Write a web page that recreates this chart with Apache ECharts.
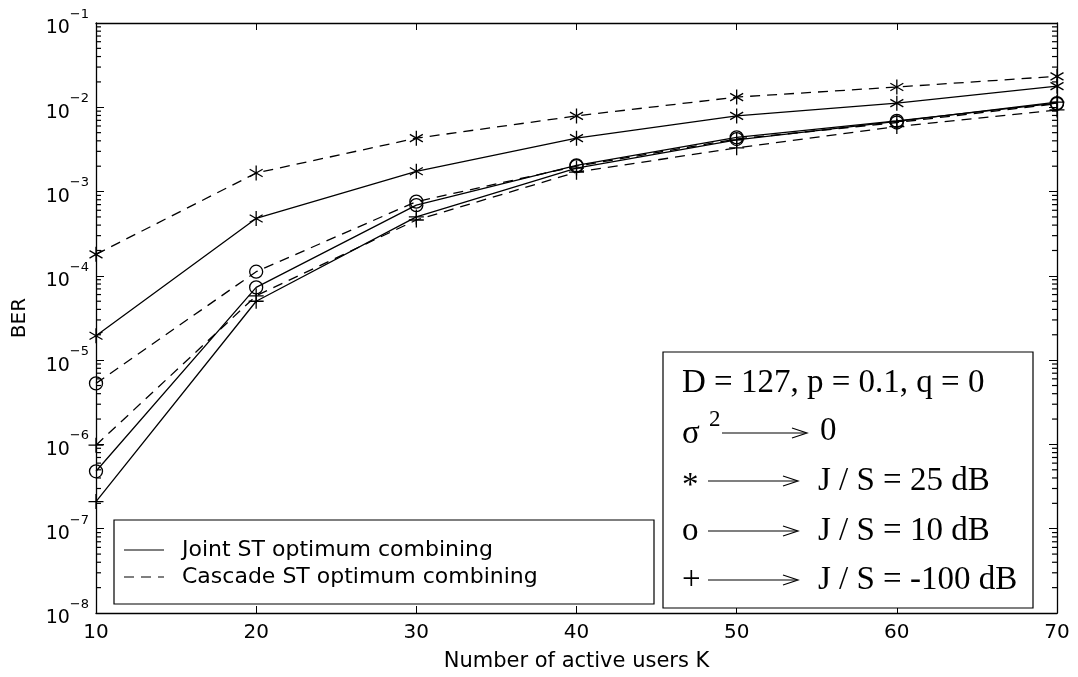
<!DOCTYPE html>
<html>
<head>
<meta charset="utf-8">
<script src="https://cdn.jsdelivr.net/npm/echarts@6/dist/echarts.min.js"></script>
<style>
  html, body { margin: 0; padding: 0; background: #fff; }
  #main { width: 1078px; height: 677px; }
</style>
</head>
<body>
<div id="main"></div>
<script>
// number of active users K
var users = [10, 20, 30, 40, 50, 60, 70];
// BER, J/S = 25 dB (*)
var joint25 = [1.95e-5, 4.8e-4, 1.74e-3, 4.3e-3, 7.9e-3, 1.12e-2, 1.78e-2];
var cascade25 = [1.8e-4, 1.66e-3, 4.3e-3, 7.9e-3, 1.32e-2, 1.74e-2, 2.33e-2];
// BER, J/S = 10 dB (o)
var joint10 = [4.8e-7, 7.3e-5, 6.9e-4, 2.05e-3, 4.4e-3, 6.9e-3, 1.12e-2];
var cascade10 = [5.3e-6, 1.12e-4, 7.6e-4, 2.0e-3, 4.2e-3, 6.6e-3, 1.1e-2];
// BER, J/S = -100 dB (+)
var jointM100 = [2.1e-7, 5.0e-5, 5.0e-4, 1.9e-3, 4.1e-3, 6.8e-3, 1.15e-2];
var cascadeM100 = [9.8e-7, 5.8e-5, 4.6e-4, 1.7e-3, 3.3e-3, 5.9e-3, 9.3e-3];

var sansFont = 'DejaVu Sans';
var serifFont = 'Liberation Serif';

var STAR = 'path://M0,-10L0,10M-8.66,-5L8.66,5M-8.66,5L8.66,-5';
var PLUS = 'path://M0,-10L0,10M-10,0L10,0';

// minor ticks of the log axis: 2..9 x 10^e
var minorValues = [];
for (var p = -8; p <= -2; p++) {
  for (var k = 2; k <= 9; k++) minorValues.push(k * Math.pow(10, p));
}

function pairs(ys) {
  return users.map(function (x, i) { return [x, ys[i]]; });
}

function makeSeries(name, ys, symbol, size, dashed) {
  return {
    name: name,
    type: 'line',
    data: pairs(ys),
    symbol: symbol,
    symbolSize: size,
    symbolKeepAspect: true,
    lineStyle: { color: '#000', width: 1.3, type: dashed ? [10, 7] : 'solid' },
    itemStyle: { color: 'rgba(0,0,0,0)', borderColor: '#000', borderWidth: 1.3 },
    emphasis: { disabled: true },
    animation: false,
    z: 3
  };
}

// small inward tick marks on the left / right edge, drawn as symbols only
function minorTickSeries(x, offset) {
  return {
    type: 'line',
    silent: true,
    data: minorValues.map(function (v) { return [x, v]; }),
    showSymbol: true,
    symbol: 'rect',
    symbolSize: [5, 1.2],
    symbolOffset: [offset, 0],
    itemStyle: { color: '#000' },
    lineStyle: { width: 0, opacity: 0 },
    emphasis: { disabled: true },
    animation: false,
    z: 2
  };
}

var chartDom = document.getElementById('main');
var myChart = echarts.init(chartDom);

var option = {
  backgroundColor: '#fff',
  animation: false,
  grid: { left: 96, right: 21, top: 23, bottom: 56, containLabel: false },
  xAxis: [
    {
      type: 'value', min: 10, max: 70, interval: 10,
      name: 'Number of active users K', nameLocation: 'middle', nameGap: 38,
      nameTextStyle: { fontFamily: sansFont, fontSize: 21, color: '#000' },
      axisLine: { lineStyle: { color: '#000', width: 1.3 } },
      axisTick: { inside: true, length: 7, lineStyle: { color: '#000' } },
      axisLabel: { fontFamily: sansFont, fontSize: 20, color: '#000', margin: 10 },
      splitLine: { show: false }
    },
    {
      type: 'value', min: 10, max: 70, interval: 10, position: 'top',
      axisLine: { lineStyle: { color: '#000', width: 1.3 } },
      axisTick: { inside: true, length: 7, lineStyle: { color: '#000' } },
      axisLabel: { show: false },
      splitLine: { show: false }
    }
  ],
  yAxis: [
    {
      type: 'log', logBase: 10, min: 1e-8, max: 1e-1, interval: 1,
      name: 'BER', nameLocation: 'middle', nameGap: 66,
      nameTextStyle: { fontFamily: sansFont, fontSize: 20, color: '#000' },
      axisLine: { show: true, lineStyle: { color: '#000', width: 1.3 } },
      axisTick: { show: true, inside: true, length: 8, lineStyle: { color: '#000' } },
      axisLabel: {
        margin: 7,
        formatter: function (v) {
          var p = Math.round(Math.log(v) / Math.LN10);
          return '{b|10}{s|' + (p < 0 ? '\u2212' : '') + Math.abs(p) + '}';
        },
        rich: {
          b: { fontFamily: sansFont, fontSize: 19, color: '#000', lineHeight: 30, verticalAlign: 'bottom' },
          s: { fontFamily: sansFont, fontSize: 13, color: '#000', lineHeight: 30, verticalAlign: 'top' }
        }
      },
      splitLine: { show: false }
    },
    {
      type: 'log', logBase: 10, min: 1e-8, max: 1e-1, interval: 1, position: 'right',
      axisLine: { show: true, lineStyle: { color: '#000', width: 1.3 } },
      axisTick: { show: true, inside: true, length: 8, lineStyle: { color: '#000' } },
      axisLabel: { show: false },
      splitLine: { show: false }
    }
  ],
  series: [
    makeSeries('Joint ST optimum combining', joint25, STAR, [15, 15], false),
    makeSeries('Cascade ST optimum combining', cascade25, STAR, [15, 15], true),
    makeSeries('Joint ST optimum combining', joint10, 'circle', 13, false),
    makeSeries('Cascade ST optimum combining', cascade10, 'circle', 13, true),
    makeSeries('Joint ST optimum combining', jointM100, PLUS, 15, false),
    makeSeries('Cascade ST optimum combining', cascadeM100, PLUS, 15, true),
    minorTickSeries(10, 2.5),
    minorTickSeries(70, -2.5)
  ],
  graphic: [
    // line style legend (bottom left)
    { type: 'rect', shape: { x: 114, y: 520, width: 540, height: 84 },
      style: { fill: '#fff', stroke: '#000', lineWidth: 1.2 }, z: 10 },
    { type: 'line', shape: { x1: 124, y1: 550, x2: 164, y2: 550 },
      style: { stroke: '#000', lineWidth: 1.2 }, z: 11 },
    { type: 'line', shape: { x1: 124, y1: 577, x2: 164, y2: 577 },
      style: { stroke: '#000', lineWidth: 1.2, lineDash: [10, 7] }, z: 11 },
    { type: 'text', x: 182, y: 550, z: 11,
      style: { text: 'Joint ST optimum combining', fontFamily: sansFont, fontSize: 22, fill: '#000', verticalAlign: 'middle' } },
    { type: 'text', x: 182, y: 577, z: 11,
      style: { text: 'Cascade ST optimum combining', fontFamily: sansFont, fontSize: 22, fill: '#000', verticalAlign: 'middle' } },

    // parameter box (bottom right)
    { type: 'rect', shape: { x: 663, y: 352, width: 370, height: 256 },
      style: { fill: '#fff', stroke: '#000', lineWidth: 1.2 }, z: 10 },
    { type: 'text', x: 682, y: 383, z: 11,
      style: { text: 'D = 127, p = 0.1, q = 0', fontFamily: serifFont, fontSize: 33, fill: '#000', verticalAlign: 'middle' } },
    { type: 'text', x: 682, y: 434, z: 11,
      style: { text: '\u03c3', fontFamily: serifFont, fontSize: 33, fill: '#000', verticalAlign: 'middle' } },
    { type: 'text', x: 709, y: 420, z: 11,
      style: { text: '2', fontFamily: serifFont, fontSize: 23, fill: '#000', verticalAlign: 'middle' } },
    { type: 'polyline', shape: { points: [[722, 433], [806, 433]] }, style: { stroke: '#000', lineWidth: 1.2 }, z: 11 },
    { type: 'polyline', shape: { points: [[792, 428], [807, 433], [792, 438]] }, style: { stroke: '#000', lineWidth: 1.2, fill: null }, z: 11 },
    { type: 'text', x: 820, y: 431, z: 11,
      style: { text: '0', fontFamily: serifFont, fontSize: 33, fill: '#000', verticalAlign: 'middle' } },

    { type: 'text', x: 682, y: 486, z: 11,
      style: { text: '*', fontFamily: serifFont, fontSize: 33, fill: '#000', verticalAlign: 'middle' } },
    { type: 'polyline', shape: { points: [[708, 481], [797, 481]] }, style: { stroke: '#000', lineWidth: 1.2 }, z: 11 },
    { type: 'polyline', shape: { points: [[783, 476], [798, 481], [783, 486]] }, style: { stroke: '#000', lineWidth: 1.2, fill: null }, z: 11 },
    { type: 'text', x: 818, y: 481, z: 11,
      style: { text: 'J / S = 25 dB', fontFamily: serifFont, fontSize: 33, fill: '#000', verticalAlign: 'middle' } },

    { type: 'text', x: 682, y: 531, z: 11,
      style: { text: 'o', fontFamily: serifFont, fontSize: 33, fill: '#000', verticalAlign: 'middle' } },
    { type: 'polyline', shape: { points: [[708, 531], [797, 531]] }, style: { stroke: '#000', lineWidth: 1.2 }, z: 11 },
    { type: 'polyline', shape: { points: [[783, 526], [798, 531], [783, 536]] }, style: { stroke: '#000', lineWidth: 1.2, fill: null }, z: 11 },
    { type: 'text', x: 818, y: 531, z: 11,
      style: { text: 'J / S = 10 dB', fontFamily: serifFont, fontSize: 33, fill: '#000', verticalAlign: 'middle' } },

    { type: 'text', x: 682, y: 580, z: 11,
      style: { text: '+', fontFamily: serifFont, fontSize: 33, fill: '#000', verticalAlign: 'middle' } },
    { type: 'polyline', shape: { points: [[708, 580], [797, 580]] }, style: { stroke: '#000', lineWidth: 1.2 }, z: 11 },
    { type: 'polyline', shape: { points: [[783, 575], [798, 580], [783, 585]] }, style: { stroke: '#000', lineWidth: 1.2, fill: null }, z: 11 },
    { type: 'text', x: 818, y: 580, z: 11,
      style: { text: 'J / S = -100 dB', fontFamily: serifFont, fontSize: 33, fill: '#000', verticalAlign: 'middle' } }
  ]
};

myChart.setOption(option);
</script>
</body>
</html>
